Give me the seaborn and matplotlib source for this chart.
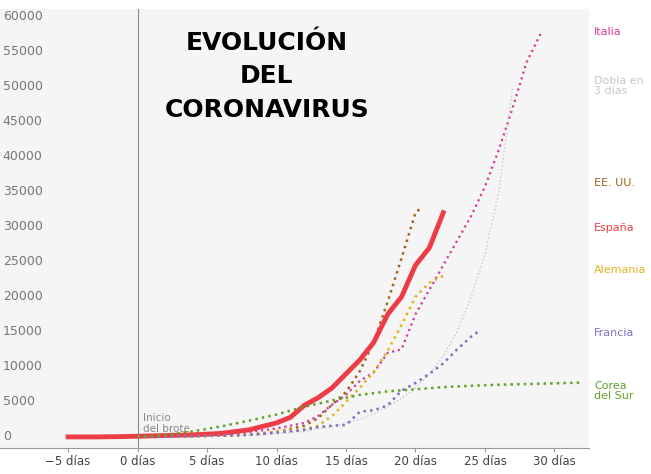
import matplotlib
matplotlib.use("Agg")
import matplotlib.pyplot as plt
import seaborn as sns
import pandas as pd

espana_x = [-5,-3,-1,0,2,4,6,8,9,10,11,12,13,14,15,16,17,18,19,20,21,22]
espana_y = [0,0,50,100,200,300,500,1000,1500,2000,2800,4500,5600,7000,9000,11000,13500,17500,20000,24500,27000,32000]
italia_x = [0,2,4,6,8,10,12,13,14,15,16,17,18,19,20,21,22,23,24,25,26,27,28,29]
italia_y = [0,100,200,400,700,1200,2000,3000,4600,6000,8000,9200,12000,12500,17500,21000,24500,28000,31500,35700,41000,47000,53500,57500]
eeuu_x = [0,4,8,10,12,13,14,15,16,17,18,19,20,20.3]
eeuu_y = [0,100,300,700,1600,2700,4600,6400,9400,13600,19300,25500,32000,32500]
alemania_x = [0,4,8,10,12,13,14,15,16,17,18,19,20,21,22]
alemania_y = [0,100,300,800,1100,1600,3000,5000,7000,9300,12300,16000,20000,22000,23000]
francia_x = [0,4,8,10,12,13,14,15,16,17,18,19,20,21,22,23,24,24.5]
francia_y = [0,100,300,600,1000,1400,1600,1700,3600,3800,4500,6600,7700,9000,10500,12500,14300,15000]
corea_x = [0,2,4,6,8,10,12,14,16,18,20,22,24,26,28,30,32]
corea_y = [0,300,800,1500,2300,3200,4300,5200,6000,6500,6800,7100,7300,7450,7550,7650,7750]
dobla_x = [0,6,9,12,14,16,17,18,19,20,21,22,23,24,25,26,27]
dobla_y = [0,100,300,800,1500,2500,3300,4300,5500,7000,9000,11500,15000,20000,26000,35000,50000]

series = [
    ("Italia", italia_x, italia_y, "#d9399b", 1.6, ":"),
    ("Dobla en\n3 días", dobla_x, dobla_y, "#c8c8c8", 1.0, ":"),
    ("EE. UU.", eeuu_x, eeuu_y, "#a0661e", 1.8, ":"),
    ("España", espana_x, espana_y, "#ee3c46", 3.5, "-"),
    ("Alemania", alemania_x, alemania_y, "#e0b41e", 1.8, ":"),
    ("Francia", francia_x, francia_y, "#8070c0", 1.8, ":"),
    ("Corea\ndel Sur", corea_x, corea_y, "#62a22a", 1.8, ":"),
]
label_y = [58500, 51500, 37000, 30500, 24500, 15500, 8000]

fig = plt.figure(figsize=(6.51, 4.74), dpi=100)
ax = fig.add_axes([0.0, 0.055, 0.905, 0.925])
ax.set_facecolor("#f5f5f5")
ax.set_xlim(-9.9, 32.5)
ax.set_ylim(-1571, 61000)
fig.canvas.draw()
for (name, xs, ys, c, lw, ls), ly in zip(series, label_y):
    df = pd.DataFrame({"x": xs, "y": ys})
    sns.lineplot(data=df, x="x", y="y", ax=ax, color=c, lw=lw, linestyle=ls)
    fig.text(0.913, ax.transData.transform((0, ly))[1] / 474, name, color=c,
             fontsize=8, va="top", ha="left", linespacing=1.0)

ax.set_xlim(-9.9, 32.5)
ax.set_ylim(-1571, 61000)
ax.axvline(0, color="#888888", lw=0.8)
ax.text(0.4, 400, "Inicio\ndel brote", fontsize=7.5, color="#888888", va="bottom")
xt = [-5, 0, 5, 10, 15, 20, 25, 30]
ax.set_xticks(xt)
ax.set_xticklabels([f"{v} días".replace("-", "−") for v in xt], fontsize=8.5, color="#444444")
ax.set_yticks([])
for v in range(0, 60001, 5000):
    ax.text(-9.7, v, str(v), fontsize=9, color="#777777", va="center", ha="left")
ax.set_xlabel(""); ax.set_ylabel("")
for s in ax.spines.values():
    s.set_visible(False)
ax.spines["bottom"].set_visible(True)
ax.spines["bottom"].set_color("#999999")
ax.tick_params(axis="x", length=3, color="#999999", pad=2)
ax.text(9.3, 51500, "EVOLUCIÓN\nDEL\nCORONAVIRUS", fontsize=18, fontweight="bold",
        ha="center", va="center", linespacing=1.5, family="Liberation Sans Narrow")
fig.savefig("out.png", dpi=100)
